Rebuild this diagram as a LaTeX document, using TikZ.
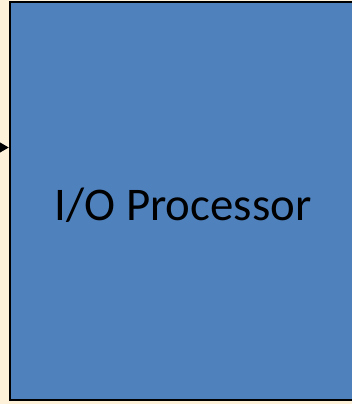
\documentclass[tikz,border=0pt]{standalone}
\usepackage{fontspec}
\setmainfont{Carlito}
\usetikzlibrary{arrows.meta}
\definecolor{cream}{HTML}{FEF1DA}
\definecolor{procblue}{HTML}{4F81BD}
\tikzset{
  procbox/.style={draw=black, line width=2.5bp, fill=procblue, inner sep=0pt,
    minimum width=346bp, minimum height=398bp},
  proclabel/.style={font=\fontsize{47}{56}\selectfont, text=black, inner sep=0pt},
  feed/.style={draw=black, line width=1.5bp, -{Triangle[length=9bp,width=10bp]}}
}
\begin{document}
\begin{tikzpicture}[x=1bp, y=1bp]
  \useasboundingbox (0,0) rectangle (352,404);
  \clip (0,0) rectangle (352,404);
  \fill[cream] (0,0) rectangle (352,404);
  % processor block, running off the right edge
  \node[procbox] (io) at (183,203) {};
  \node[proclabel, anchor=base] (iolabel) at (183,184) {I/O Processor};
  % incoming link on the left side
  \coordinate (src) at (-30,256.5);
  \draw[feed] (src) -- (src -| io.west);
\end{tikzpicture}
\end{document}
